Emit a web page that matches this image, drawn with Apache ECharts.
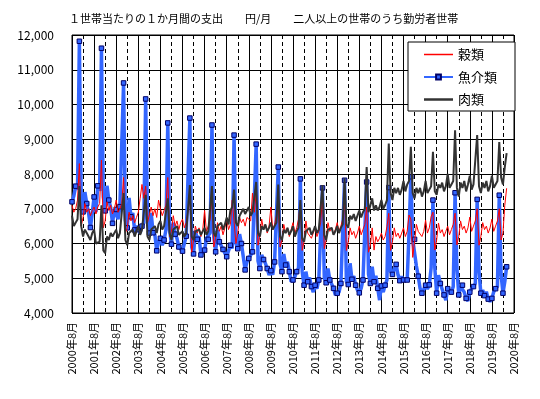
<!DOCTYPE html>
<html><head><meta charset="utf-8">
<script src="https://cdn.jsdelivr.net/npm/echarts@6/dist/echarts.min.js"></script>
<style>html,body{margin:0;padding:0;background:#fff}#c{width:540px;height:399px}</style>
</head><body><div id="c"></div>
<script>
// Category axis: monthly, starting 2000年8月, 241 slots (to 2020年8月)
const startYear = 2000, startMonth = 8, slotCount = 241;
const categories = [];
for (let i = 0; i < slotCount; i++) {
  const m0 = startMonth - 1 + i;
  categories.push((startYear + Math.floor(m0 / 12)) + '年' + (m0 % 12 + 1) + '月');
}
const seriesNames = ['穀類', '魚介類', '肉類'];
const yTicks = [4000, 5000, 6000, 7000, 8000, 9000, 10000, 11000, 12000];

// 穀類 (2000年8月 - 2020年4月)
const grain = [
  7100,6900,7000,7250,8300,
  6500,6750,7150,6900,7000,6800,6950,7050,6850,7050,7150,8400,
  6450,6650,7200,6950,7100,6850,7000,7250,6900,7000,7150,7900,
  6300,6450,6900,6650,6800,6600,6750,6900,7300,7700,7300,7650,
  6600,6650,7050,6800,7000,6750,7250,7000,6800,6950,7100,7900,
  6200,6350,6800,6500,6650,6400,6600,6700,6450,6600,6950,7340,
  5750,6100,6500,6300,6450,6200,6400,6950,6350,6500,6700,7340,
  5900,6150,6600,6350,6500,6250,6450,6700,6400,6550,7250,7250,
  6000,6300,6750,6600,6700,6500,6750,6800,6650,7450,6900,7450,
  5950,6200,6700,6400,6550,6300,6500,7050,6400,6550,6800,7100,
  5900,6100,6550,6300,6450,6200,6400,6600,6300,6450,6700,7150,
  5800,6050,6650,6300,6350,6150,6300,6500,6200,6350,6600,7340,
  5850,6100,6600,6350,6450,6250,6400,6600,6350,6500,6700,7250,
  5800,6050,6450,6250,6350,6150,6300,6500,6250,6400,6550,7050,
  5750,5950,6450,5810,6200,6050,6150,6300,6100,6200,6480,6870,
  5800,6050,6450,6200,6300,6150,6300,6450,6200,6350,6820,6700,
  5600,6050,6550,6350,6400,6200,6350,6670,6300,6450,6770,6900,
  5810,6100,6590,6300,6400,6200,6350,6500,6250,6400,6550,6870,
  5960,6200,6650,6400,6500,6300,6450,6760,6350,6500,6650,7000,
  5950,6200,6600,6400,6500,6300,6450,6700,6350,6500,6650,7000,
  6100,6300,7100,7590
];
// 魚介類
const fish = [
  7200,7370,7650,7550,11820,
  7340,6910,7480,7150,6880,6460,6880,7340,6900,7660,7510,11620,
  7340,6940,7660,7250,7040,6580,6980,6980,6700,7060,7100,10620,
  6670,6450,7310,6770,6880,6390,6500,6400,6300,6500,6600,10160,
  6720,6300,6880,6310,6250,5790,6050,6150,5950,6100,6390,9470,
  6390,5980,6600,6270,6150,5900,5860,5780,5810,6210,6240,9610,
  5900,5700,6370,6120,6210,5670,5720,5810,6150,6120,6300,9410,
  6190,5760,6390,6050,6050,5830,5720,5620,5790,5950,5860,9120,
  6000,5850,6270,6000,5620,5240,5470,5570,5620,5760,5760,8860,
  5500,5280,5670,5540,5430,5280,5090,5220,5100,5470,5520,8200,
  5400,5190,5700,5380,5470,5190,4900,4950,5040,5190,5300,7860,
  5190,4800,5190,4900,5020,4760,4600,4800,4700,4950,4970,7600,
  5000,4870,5280,4950,4950,4710,4520,4570,4600,4850,4820,7820,
  4900,4820,5430,4970,5060,4800,4660,4580,4710,4950,5000,7770,
  5120,4850,5330,4900,5070,4710,4370,4780,4600,4800,4950,7610,
  5190,5110,5260,5400,5100,4930,5050,4950,4930,4950,6300,7920,
  6120,6120,5350,5060,4710,4570,4610,4800,4690,4810,5300,7250,
  5300,4570,5090,4850,4900,4520,4370,4700,4660,4600,4760,7460,
  5300,4520,4760,4800,4600,4420,4350,4600,4700,4760,4850,7270,
  5200,4570,4660,4500,4610,4400,4330,4420,4610,4700,4760,7390,
  5100,4570,4900,5330
];
// 肉類
const meat = [
  6800,6500,6600,6700,7650,
  6500,6200,6400,6300,6250,6100,6300,6400,6000,5950,6050,7100,
  5800,5720,6200,6100,6300,6200,6250,6400,6150,6300,6350,7450,
  6100,5950,6300,6250,6400,6200,6350,6500,6250,6400,6450,7400,
  6200,6100,6400,6350,6500,6300,6550,6650,6400,6500,6550,7300,
  6300,6100,6400,6350,6500,6250,6300,6350,6200,6300,6350,7680,
  6200,6100,6350,6300,6400,6250,6300,6450,6250,6350,6400,7650,
  6300,6200,6500,6450,6600,6400,6550,6750,6550,6950,7050,7550,
  6600,6500,6800,6750,7000,6850,6900,7050,6800,6900,6950,7770,
  6300,6200,6500,6400,6550,6350,6450,6600,6400,6500,6600,7700,
  6200,6100,6400,6300,6450,6250,6350,6500,6200,6350,6450,7250,
  6150,6050,6350,6300,6450,6250,6350,6500,6300,6400,6450,7680,
  6250,6100,6400,6350,6450,6250,6350,6500,6300,6450,6550,7880,
  6550,6450,6800,6700,6850,6650,6800,6950,6750,6900,7000,8200,
  6900,6850,7300,6950,7100,6950,7050,7250,7000,7100,7250,8880,
  7450,7250,7600,7450,7600,7400,7550,7800,7500,7700,7800,8780,
  7450,7300,7600,7450,7600,7350,7500,7800,7450,7550,7650,8640,
  7500,7400,7700,7600,7750,7500,7650,8000,7600,7700,7800,9260,
  7600,7350,7750,7600,7800,7500,7700,7950,7550,7700,7750,9120,
  7650,7450,7750,7600,7800,7500,7650,7950,7600,7700,7800,8920,
  7900,7700,8200,8600
];

const FONT = '"Noto Sans CJK JP", "Noto Sans", sans-serif';
const chart = echarts.init(document.getElementById('c'), null, {renderer: 'canvas'});
chart.setOption({
  animation: false,
  backgroundColor: '#fff',
  title: {
    text: '１世帯当たりの１か月間の支出　　円/月　　二人以上の世帯のうち勤労者世帯',
    left: 64, top: 8,
    textStyle: {fontFamily: FONT, fontSize: 11, fontWeight: 'normal', color: '#000'}
  },
  grid: {left: 72, right: 26, top: 35, bottom: 86, show: true, borderColor: '#000', borderWidth: 1, backgroundColor: 'transparent'},
  legend: {
    orient: 'vertical', left: 408, top: 42,
    data: [
      {name: seriesNames[0], icon: 'path://M0,0 H58 V3 H0 Z'},
      {name: seriesNames[1]},
      {name: seriesNames[2], icon: 'path://M0,0 H29 V2.5 H0 Z'}
    ],
    symbolKeepAspect: true,
    backgroundColor: '#fff', borderColor: '#000', borderWidth: 1,
    padding: [6, 18, 5, 15],
    itemWidth: 29, itemHeight: 6, itemGap: 9.5,
    textStyle: {fontFamily: FONT, fontSize: 13, color: '#000'}
  },
  xAxis: [{
    type: 'category', data: categories, boundaryGap: false,
    axisLine: {show: false}, axisTick: {show: false},
    axisLabel: {interval: 11, rotate: 90, margin: 9, fontFamily: FONT, fontSize: 11, color: '#000'},
    splitLine: {show: true, interval: 11, lineStyle: {color: '#000', width: 1}}
  }, {
    type: 'category', data: categories, boundaryGap: false, position: 'bottom',
    axisLine: {show: false}, axisTick: {show: false}, axisLabel: {show: false},
    splitLine: {show: true, interval: function (i) { return i % 12 === 6; },
      lineStyle: {color: '#000', width: 1, type: [4, 3]}}
  }],
  yAxis: {
    type: 'value', min: yTicks[0], max: yTicks[yTicks.length - 1], interval: 1000,
    axisLine: {show: false}, axisTick: {show: false},
    axisLabel: {margin: 18, fontFamily: FONT, fontSize: 12, color: '#000',
      formatter: function (v) { return v.toLocaleString('en-US'); }},
    splitLine: {show: true, lineStyle: {color: '#000', width: 1}}
  },
  series: [{
    name: seriesNames[0], type: 'line', data: grain, z: 3,
    symbol: 'none', lineStyle: {color: '#ff0000', width: 1}, itemStyle: {color: '#ff0000'}
  }, {
    name: seriesNames[1], type: 'line', data: fish, z: 2,
    symbol: 'rect', showSymbol: true, showAllSymbol: true,
    symbolSize: function (v, p) { return (p && p.dataIndex % 2 === 0) ? 4.5 : 0; },
    lineStyle: {color: '#3366ff', width: 3.5},
    itemStyle: {color: '#3366ff', borderColor: '#000066', borderWidth: 1}
  }, {
    name: seriesNames[2], type: 'line', data: meat, z: 4,
    symbol: 'none', lineStyle: {color: '#333333', width: 2}, itemStyle: {color: '#333333'}
  }]
});
</script></body></html>
